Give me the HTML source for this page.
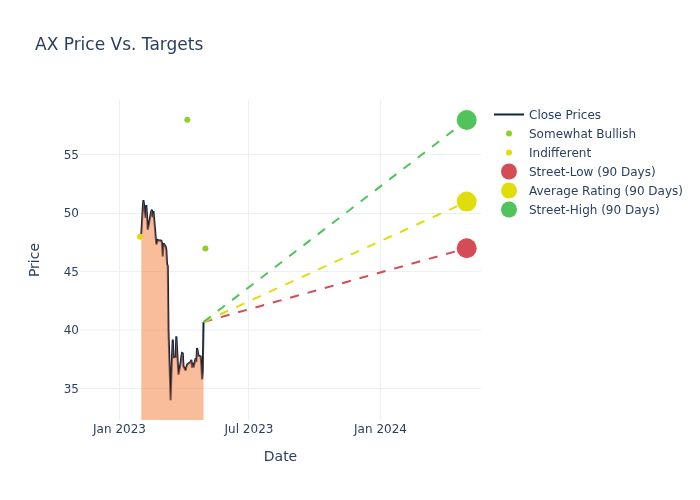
<!DOCTYPE html>
<html><head><meta charset="utf-8"><title>AX Price Vs. Targets</title>
<style>
html,body{margin:0;padding:0;background:#fff;}
svg{display:block;font-family:"DejaVu Sans","Liberation Sans",sans-serif;}
text{fill:#2a3f5f;}
</style></head><body>
<svg width="700" height="500" viewBox="0 0 700 500">
<rect width="700" height="500" fill="#fff"/>
<g stroke="#ebf0f8" stroke-width="1" shape-rendering="crispEdges">
<line x1="119.5" y1="100" x2="119.5" y2="420"/>
<line x1="248.5" y1="100" x2="248.5" y2="420"/>
<line x1="380.5" y1="100" x2="380.5" y2="420"/>
<line x1="80" y1="388.5" x2="481" y2="388.5"/>
<line x1="80" y1="271.5" x2="481" y2="271.5"/>
<line x1="80" y1="213.5" x2="481" y2="213.5"/>
<line x1="80" y1="154.5" x2="481" y2="154.5"/>
</g>
<line x1="80" y1="330" x2="481" y2="330" stroke="#ebf0f8" stroke-width="1"/>
<path d="M141.30,234.00L142.02,222.00L142.73,209.00L143.45,200.20L145.59,218.00L146.31,205.00L147.02,216.00L147.74,229.80L148.45,226.50L150.60,214.50L151.31,211.00L152.03,209.80L152.74,217.50L153.46,211.00L156.32,244.50L157.03,242.50L157.75,240.00L158.46,240.20L160.61,240.50L161.32,240.80L162.04,243.50L162.75,256.50L163.47,243.20L165.61,246.50L166.33,250.00L167.04,264.00L167.76,266.00L168.47,331.00L170.62,400.20L171.33,377.00L172.05,356.00L172.77,339.50L173.48,357.50L175.63,357.00L176.34,336.30L177.06,349.00L177.77,363.00L178.49,374.60L180.63,363.00L181.35,357.00L182.06,353.00L182.78,353.40L183.49,366.50L185.64,370.50L186.35,367.00L187.07,365.00L187.78,364.00L190.64,362.00L191.36,359.80L192.07,367.60L192.79,362.80L193.50,367.40L195.65,358.20L196.36,362.00L197.08,348.00L197.79,352.00L198.51,355.80L200.65,356.50L201.37,366.00L202.08,379.40L202.80,371.00L203.51,322.00" fill="none" stroke="#10233f" stroke-width="2" stroke-linejoin="miter" stroke-miterlimit="2"/>
<path d="M141.30,234.00L142.02,222.00L142.73,209.00L143.45,200.20L145.59,218.00L146.31,205.00L147.02,216.00L147.74,229.80L148.45,226.50L150.60,214.50L151.31,211.00L152.03,209.80L152.74,217.50L153.46,211.00L156.32,244.50L157.03,242.50L157.75,240.00L158.46,240.20L160.61,240.50L161.32,240.80L162.04,243.50L162.75,256.50L163.47,243.20L165.61,246.50L166.33,250.00L167.04,264.00L167.76,266.00L168.47,331.00L170.62,400.20L171.33,377.00L172.05,356.00L172.77,339.50L173.48,357.50L175.63,357.00L176.34,336.30L177.06,349.00L177.77,363.00L178.49,374.60L180.63,363.00L181.35,357.00L182.06,353.00L182.78,353.40L183.49,366.50L185.64,370.50L186.35,367.00L187.07,365.00L187.78,364.00L190.64,362.00L191.36,359.80L192.07,367.60L192.79,362.80L193.50,367.40L195.65,358.20L196.36,362.00L197.08,348.00L197.79,352.00L198.51,355.80L200.65,356.50L201.37,366.00L202.08,379.40L202.80,371.00L203.51,322.00L203.51,420L141.30,420Z" fill="rgb(245,123,55)" fill-opacity="0.5" stroke="none"/>
<circle cx="187.3" cy="119.8" r="3" fill="#8fd026"/>
<circle cx="205.4" cy="248.4" r="3" fill="#8fd026"/>
<circle cx="140" cy="236.7" r="3" fill="#e0dd0c"/>
<g fill="none" stroke-width="2" stroke-dasharray="9,9">
<path d="M203.5,322L467,248.2" stroke="#d44c55"/>
<path d="M203.5,322L467,201.6" stroke="#e0dd0c"/>
<path d="M203.5,322L467,120" stroke="#50c35a"/>
</g>
<circle cx="466.7" cy="248.2" r="10" fill="#d44c55"/>
<circle cx="466.7" cy="201.6" r="10" fill="#e0dd0c"/>
<circle cx="466.7" cy="120" r="10" fill="#50c35a"/>
<g font-size="12px">
<g text-anchor="middle">
<text x="119.5" y="432.8">Jan 2023</text>
<text x="249" y="432.8">Jul 2023</text>
<text x="380.5" y="432.8">Jan 2024</text>
</g>
<g text-anchor="end">
<text x="79" y="392.7">35</text>
<text x="79" y="334.3">40</text>
<text x="79" y="276">45</text>
<text x="79" y="217.2">50</text>
<text x="79" y="158.8">55</text>
</g>
<g>
<line x1="494" y1="114.5" x2="524" y2="114.5" stroke="#10233f" stroke-width="2"/>
<text x="529" y="118.7">Close Prices</text>
<circle cx="509" cy="133.5" r="3" fill="#8fd026"/>
<text x="529" y="137.7">Somewhat Bullish</text>
<circle cx="509" cy="152.5" r="3" fill="#e0dd0c"/>
<text x="529" y="156.7">Indifferent</text>
<circle cx="509" cy="171.5" r="8" fill="#d44c55"/>
<text x="529" y="175.7">Street-Low (90 Days)</text>
<circle cx="509" cy="190.5" r="8" fill="#e0dd0c"/>
<text x="529" y="194.7">Average Rating (90 Days)</text>
<circle cx="509" cy="209.5" r="8" fill="#50c35a"/>
<text x="529" y="213.7">Street-High (90 Days)</text>
</g>
</g>
<text x="35" y="50" font-size="17px">AX Price Vs. Targets</text>
<text x="280.5" y="461" font-size="14px" text-anchor="middle">Date</text>
<text transform="translate(39,260) rotate(-90)" font-size="14px" text-anchor="middle">Price</text>
</svg>
</body></html>
